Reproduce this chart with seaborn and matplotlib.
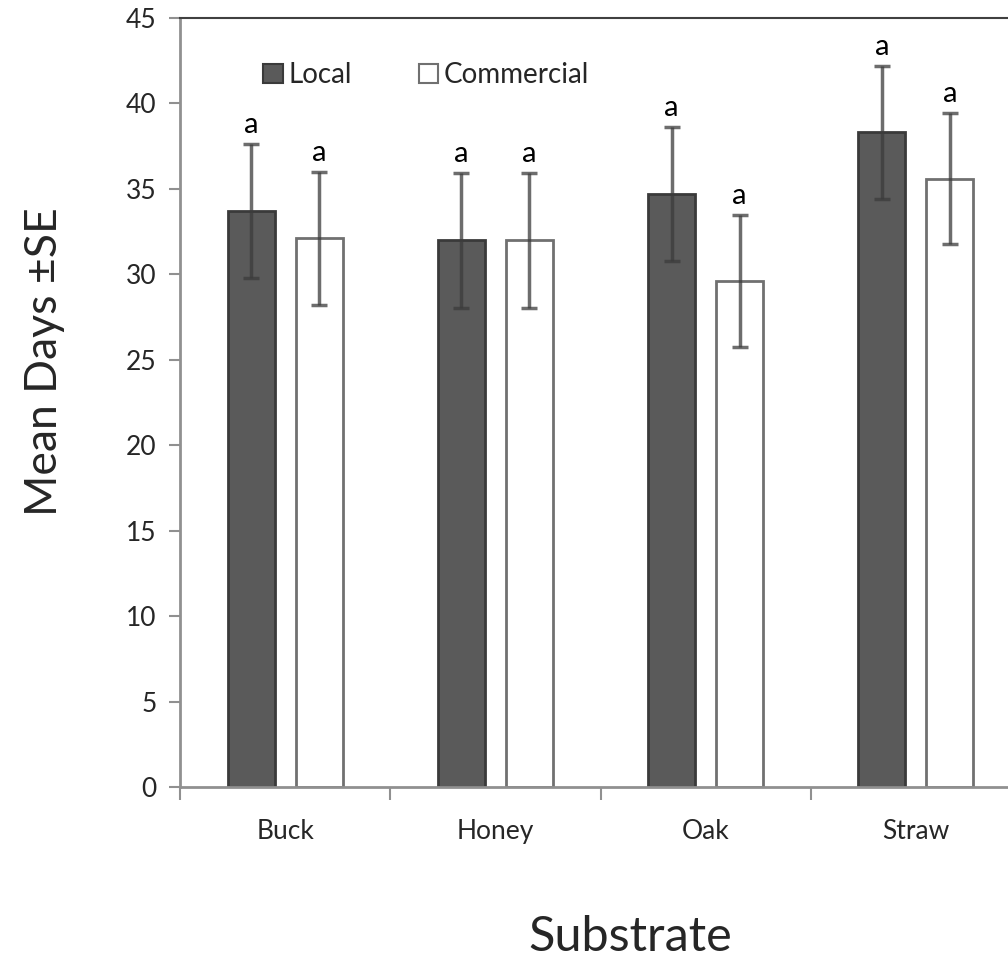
import pandas as pd
import seaborn as sns
import matplotlib.pyplot as plt
from matplotlib.patches import Patch

# Values
substrates = ['Buck', 'Honey', 'Oak', 'Straw']
groups = ['Local', 'Commercial']
local_mean = [33.7, 32.0, 34.7, 38.3]
commercial_mean = [32.1, 32.0, 29.6, 35.6]
local_se = [3.9, 3.95, 3.9, 3.9]
commercial_se = [3.9, 3.95, 3.85, 3.85]
letters_local = ['a', 'a', 'a', 'a']
letters_commercial = ['a', 'a', 'a', 'a']

df = pd.DataFrame({
    'Substrate': substrates * 2,
    'Source': ['Local'] * 4 + ['Commercial'] * 4,
    'Days': local_mean + commercial_mean,
    'SE': local_se + commercial_se,
    'Letter': letters_local + letters_commercial,
})

sns.set_theme(style='white')
plt.rcParams['font.family'] = ['Lato', 'DejaVu Sans']

colors = {'Local': '#5a5a5a', 'Commercial': '#ffffff'}
edges = {'Local': '#3a3a3a', 'Commercial': '#707070'}

fig = plt.figure(figsize=(10.08, 9.6), dpi=100)
ax = fig.add_axes([180 / 1008, 173 / 960, 841 / 1008, 769 / 960])

sns.barplot(data=df, x='Substrate', y='Days', hue='Source', order=substrates,
            hue_order=groups, palette=colors, width=0.648, gap=0.31,
            errorbar=None, legend=False, ax=ax)

# outline each bar and add error bars / letters from the bar geometry
for i, src in enumerate(groups):
    sub = df[df['Source'] == src].set_index('Substrate').loc[substrates]
    for j, bar in enumerate(ax.patches[i * 4:(i + 1) * 4]):
        bar.set_edgecolor(edges[src])
        bar.set_linewidth(2)
        xc = bar.get_x() + bar.get_width() / 2
        m = sub['Days'].iloc[j]
        se = sub['SE'].iloc[j]
        ax.errorbar(xc, m, yerr=se, fmt='none', ecolor='#3c3c3c', alpha=0.75,
                    elinewidth=2.5, capsize=5.5, capthick=2.5)
        ax.text(xc, m + se + 0.35, sub['Letter'].iloc[j], ha='center', va='bottom',
                fontsize=21, color='black')

ax.set_ylim(0, 45)
ax.set_xlim(-0.5, 3.5)
ax.set_yticks(range(0, 46, 5))
ax.tick_params(axis='y', which='major', length=8, width=1.5, color='#909090',
               direction='out', labelsize=19, pad=9, left=True)
ax.set_xticks([-0.5, 0.5, 1.5, 2.5], minor=True)
ax.tick_params(axis='x', which='minor', length=9, width=1.5, color='#909090',
               direction='out', bottom=True)
ax.tick_params(axis='x', which='major', length=0, labelsize=19, pad=23)

for side in ['left', 'bottom']:
    ax.spines[side].set_color('#909090')
    ax.spines[side].set_linewidth(2)
ax.spines['top'].set_color('#404040')
ax.spines['top'].set_linewidth(1.5)
ax.spines['right'].set_visible(False)

ax.set_ylabel('Mean Days ±SE', fontsize=32)
ax.set_xlabel('Substrate', fontsize=35)
ax.yaxis.set_label_coords(-0.137, 0.553)
ax.xaxis.set_label_coords(0.535, -0.166)

handles = [Patch(facecolor=colors[g], edgecolor=edges[g], linewidth=1.5, label=g)
           for g in groups]
ax.legend(handles=handles, loc='upper left', bbox_to_anchor=(0.0695, 0.975), ncol=2,
          frameon=False, fontsize=20, handlelength=0.7, handleheight=0.7,
          handletextpad=0.2, columnspacing=2.4)

fig.savefig('out.png', dpi=100)
